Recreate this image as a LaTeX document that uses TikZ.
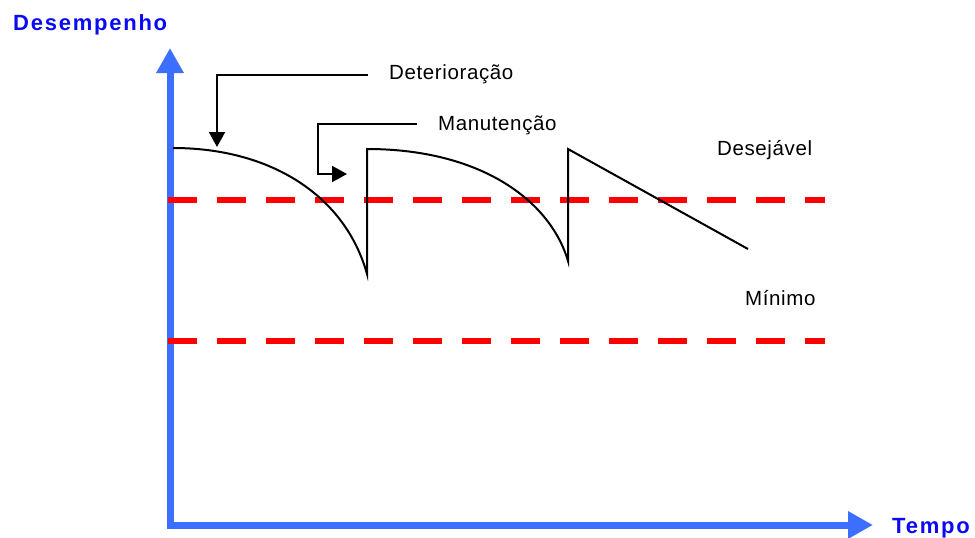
\documentclass[tikz,border=0pt]{standalone}
\usepackage{fontspec}
\setmainfont{Liberation Sans}
\newfontfamily\axisfont[LetterSpace=8]{Liberation Sans Bold}
\newfontfamily\labelfont[LetterSpace=3]{Liberation Sans}
\usetikzlibrary{arrows.meta}
\definecolor{axisblue}{RGB}{60,110,255}
\definecolor{axislabel}{RGB}{10,10,245}
\definecolor{limitred}{RGB}{255,0,0}
\tikzset{
  axis/.style={draw=axisblue, line width=7pt, -{Triangle[length=25pt,width=26pt]}},
  axislbl/.style={font=\axisfont\fontsize{22}{26}\selectfont, text=axislabel, inner sep=0pt, anchor=base west},
  lbl/.style={font=\labelfont\fontsize{20.5}{24}\selectfont, text=black, inner sep=0pt, anchor=base west},
  limit/.style={draw=limitred, line width=6.5pt, dash pattern=on 29pt off 20pt},
  curve/.style={draw=black, line width=2pt, line join=miter},
  callout/.style={draw=black, line width=2pt, -{Triangle[length=15pt,width=16pt]}},
}
\begin{document}
\begin{tikzpicture}[x=1pt, y=-1pt]
\useasboundingbox (0,0) rectangle (975,538);

% axes
\coordinate (origin) at (170,525);
\coordinate (ytop) at (170,48);
\coordinate (xend) at (873,525);
\draw[axis] ([yshift=-3.5pt]origin) -- (ytop);
\draw[axis] ([xshift=-3.5pt]origin) -- (xend);
\node[axislbl] (ylab) at (13,30) {Desempenho};
\node[axislbl] (xlab) at (892,533) {Tempo};

% desired and minimum levels
\draw[limit] (168,200) -- (825,200);
\draw[limit] (168,341) -- (825,341);
\node[lbl] (desejavel) at (717,155) {Desejável};
\node[lbl] (minimo) at (745,305) {Mínimo};

% performance over time: deterioration followed by maintenance jumps
\draw[curve] (173,148) .. controls (270,148) and (345,195) .. (367,274)
  -- (367,149) .. controls (480,149) and (550,200) .. (568,261)
  -- (568,149) -- (748,249);

% callouts
\node[lbl] (det) at (389,79) {Deterioração};
\node[lbl] (man) at (438,130) {Manutenção};
\coordinate (detTip) at (217,147);
\coordinate (manTip) at (347,174);
\draw[callout] (det.base west) ++(-21,-4) -| (detTip);
\draw[callout] (man.base west) ++(-21,-6) -| (318,174) -- (manTip);
\end{tikzpicture}
\end{document}
